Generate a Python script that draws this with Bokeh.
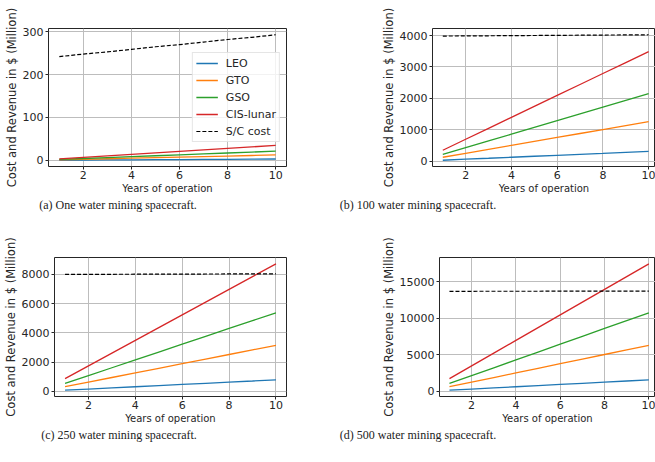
from bokeh.plotting import figure
from bokeh.models import FixedTicker, Range1d, DataRange1d, Div
from bokeh.layouts import column, row
from bokeh.embed import file_html
from bokeh.resources import INLINE

years = [1, 2, 3, 4, 5, 6, 7, 8, 9, 10]
series_names = ["LEO", "GTO", "GSO", "CIS-lunar"]
cost_name = "S/C cost"
colors = ["#1f77b4", "#ff7f0e", "#2ca02c", "#d62728"]

# (a) one spacecraft
a_leo = [0.31, 0.63, 0.94, 1.26, 1.57, 1.88, 2.2, 2.51, 2.83, 3.14]
a_gto = [1.26, 2.52, 3.78, 5.04, 6.3, 7.56, 8.82, 10.08, 11.34, 12.6]
a_gso = [2.15, 4.3, 6.45, 8.6, 10.75, 12.9, 15.05, 17.2, 19.35, 21.5]
a_cis = [3.49, 6.98, 10.47, 13.96, 17.45, 20.94, 24.43, 27.92, 31.41, 34.9]
a_cost = [242, 248, 253, 259, 265, 270, 276, 282, 287, 293]

# (b) 100 spacecraft
b_leo = [31, 63, 94, 126, 157, 188, 220, 251, 283, 314]
b_gto = [126, 252, 378, 504, 630, 756, 882, 1008, 1134, 1260]
b_gso = [215, 430, 645, 860, 1075, 1290, 1505, 1720, 1935, 2150]
b_cis = [349, 698, 1047, 1396, 1745, 2094, 2443, 2792, 3141, 3490]
b_cost = [3985, 3990, 3994, 3999, 4003, 4008, 4012, 4017, 4021, 4026]

# (c) 250 spacecraft
c_leo = [78, 157, 235, 314, 392, 471, 549, 628, 706, 785]
c_gto = [315, 630, 945, 1260, 1575, 1890, 2205, 2520, 2835, 3150]
c_gso = [538, 1075, 1613, 2150, 2688, 3225, 3763, 4300, 4838, 5375]
c_cis = [873, 1745, 2618, 3490, 4363, 5235, 6108, 6980, 7853, 8725]
c_cost = [8000, 8004, 8009, 8013, 8018, 8022, 8027, 8031, 8036, 8040]

# (d) 500 spacecraft
d_leo = [157, 314, 471, 628, 785, 942, 1099, 1256, 1413, 1570]
d_gto = [630, 1260, 1890, 2520, 3150, 3780, 4410, 5040, 5670, 6300]
d_gso = [1075, 2150, 3225, 4300, 5375, 6450, 7525, 8600, 9675, 10750]
d_cis = [1745, 3490, 5235, 6980, 8725, 10470, 12215, 13960, 15705, 17450]
d_cost = [13690, 13692, 13694, 13697, 13699, 13701, 13703, 13706, 13708, 13710]

x_ticks = [2, 4, 6, 8, 10]
a_yticks = [0, 100, 200, 300]
b_yticks = [0, 1000, 2000, 3000, 4000]
c_yticks = [0, 2000, 4000, 6000, 8000]
d_yticks = [0, 5000, 10000, 15000]

captions = ["(a) One water mining spacecraft.",
            "(b) 100 water mining spacecraft.",
            "(c) 250 water mining spacecraft.",
            "(d) 500 water mining spacecraft."]

x_label = "Years of operation"
y_label = "Cost and Revenue in $ (Million)"

TXT = "#262626"
FONT = "DejaVu Sans"


def make_panel(series, cost, yticks, width, height, borders, crop_end=None, legend=False):
    left, right, top, bottom = borders
    if crop_end is None:
        xr = DataRange1d()
    else:
        span = years[-1] - years[0]
        xr = Range1d(start=years[0] - 0.05 * span, end=crop_end)
    p = figure(width=width, height=height, output_backend="svg", toolbar_location=None,
               x_range=xr, y_range=DataRange1d(),
               min_border_left=left, min_border_right=right,
               min_border_top=top, min_border_bottom=bottom)
    for name, vals, col in zip(series_names, series, colors):
        kw = dict(legend_label=name) if legend else {}
        p.line(years, vals, line_color=col, line_width=1.3, **kw)
    kw = dict(legend_label=cost_name) if legend else {}
    p.line(years, cost, line_color="black", line_width=1.2, line_dash="4 2", **kw)

    p.xaxis.ticker = FixedTicker(ticks=x_ticks)
    p.yaxis.ticker = FixedTicker(ticks=yticks)
    p.axis.axis_line_color = None
    p.axis.major_tick_line_color = TXT
    p.axis.major_tick_out = 3
    p.axis.major_tick_in = 0
    p.axis.minor_tick_line_color = None
    p.axis.major_label_text_font = FONT
    p.axis.major_label_text_font_size = "11px"
    p.axis.major_label_text_color = TXT
    p.yaxis.major_label_standoff = 2
    p.xaxis.major_label_standoff = 1
    p.xaxis.axis_label = x_label
    p.yaxis.axis_label = y_label
    p.axis.axis_label_text_font = FONT
    p.axis.axis_label_text_font_style = "normal"
    p.axis.axis_label_text_color = TXT
    p.xaxis.axis_label_text_font_size = "10px"
    p.yaxis.axis_label_text_font_size = "11.5px"
    p.xaxis.axis_label_standoff = 1
    p.yaxis.axis_label_standoff = 1
    p.grid.grid_line_color = "#bdbdbd"
    p.grid.grid_line_width = 1
    p.outline_line_color = TXT
    p.outline_line_width = 1
    p.outline_line_alpha = 1
    p.background_fill_color = "white"
    p.border_fill_color = "white"
    if legend:
        lg = p.legend[0]
        lg.location = "right"
        lg.label_text_font = FONT
        lg.label_text_font_size = "11px"
        lg.label_text_color = TXT
        lg.glyph_width = 22
        lg.glyph_height = 14
        lg.label_height = 14
        lg.label_standoff = 8
        lg.spacing = 3
        lg.padding = 3
        lg.margin = 6
        lg.border_line_color = "#cccccc"
        lg.border_line_width = 1
        lg.background_fill_alpha = 0.8
    return p


pa = make_panel([a_leo, a_gto, a_gso, a_cis], a_cost, a_yticks, 378, 198, (48, 92, 28, 32), legend=True)
pb = make_panel([b_leo, b_gto, b_gso, b_cis], b_cost, b_yticks, 277, 198, (49, 0, 28, 32), crop_end=10.3)
pc = make_panel([c_leo, c_gto, c_gso, c_cis], c_cost, c_yticks, 378, 212, (54, 92, 41, 32))
pd = make_panel([d_leo, d_gto, d_gso, d_cis], d_cost, d_yticks, 277, 212, (56, 0, 41, 32), crop_end=10.3)


def caption(text, w, h):
    return Div(text=text, width=w, height=h, margin=0,
               styles={"font-family": "Liberation Serif", "font-size": "12px",
                       "color": "#222222", "text-align": "center", "line-height": "14px",
                       "white-space": "nowrap"})


cap_row1 = row(caption(captions[0], 236, 18), caption(captions[1], 364, 18))
cap_row2 = row(caption(captions[2], 238, 18), caption(captions[3], 360, 18))

layout = column(row(pa, pb), cap_row1, row(pc, pd), cap_row2)

open("out.html", "w").write(file_html(layout, INLINE))
